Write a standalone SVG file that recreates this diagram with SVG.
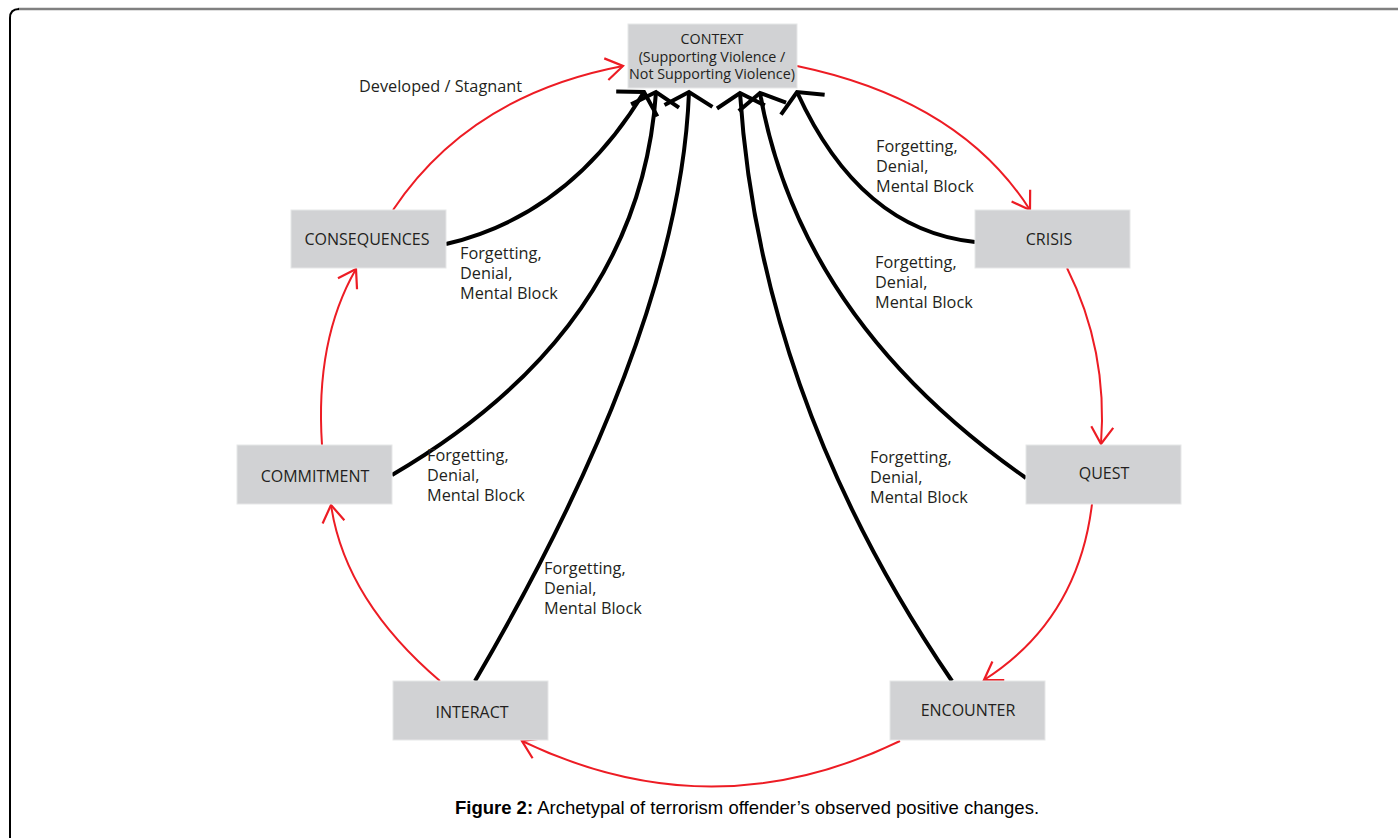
<svg xmlns="http://www.w3.org/2000/svg" width="1398" height="838" viewBox="0 0 1398 838">
<style>
.box{fill:#d1d2d4;stroke:#e6e7e8;stroke-width:1}
.lbl{font-family:"Open Sans","Liberation Sans",sans-serif;font-size:16px;fill:#231f20;text-anchor:middle}
.ctx{font-family:"Open Sans","Liberation Sans",sans-serif;font-size:14.3px;fill:#231f20;text-anchor:middle}
.note{font-family:"Open Sans","Liberation Sans",sans-serif;font-size:16.3px;fill:#231f20}
.red{fill:none;stroke:#ed1c24;stroke-width:2;marker-end:url(#ra)}
.blk{fill:none;stroke:#000;stroke-width:4;marker-end:url(#ba)}
</style>
<defs>
<marker id="ra" markerUnits="userSpaceOnUse" markerWidth="40" markerHeight="40" viewBox="-25 -20 30 40" refX="0" refY="0" orient="auto" overflow="visible">
<path d="M-17,-11 L0,0 L-17,11" fill="none" stroke="#ed1c24" stroke-width="2.2"/>
</marker>
<marker id="ba" markerUnits="userSpaceOnUse" markerWidth="60" markerHeight="60" viewBox="-30 -30 40 60" refX="0" refY="0" orient="auto" overflow="visible">
<path d="M-14,-24 L0,0 L-14,24" fill="none" stroke="#000" stroke-width="4"/>
</marker>
</defs>
<rect width="1398" height="838" fill="#fff"/>
<path d="M18,9 L1398,9" stroke="#808080" stroke-width="2.5" fill="none"/>
<path d="M10,838 L10,18 Q10,9 19,9" stroke="#000" stroke-width="2" fill="none"/>

<g id="connectors">
<path class="red" d="M393,210 Q470,95 623,66"/>
<path class="red" d="M797,66 Q960,100 1030,210"/>
<path class="red" d="M1067,268 Q1108,350 1101,444"/>
<path class="red" d="M1092,504 Q1078,620 984,680"/>
<path class="red" d="M900,741 Q712,832 522,741"/>
<path class="red" d="M440,681 Q345,600 331,505"/>
<path class="red" d="M322,445 Q315,340 356,269"/>

<path class="blk" d="M446,244 Q570,215 644,92"/>
<path class="blk" d="M392,475 Q640,330 656,92"/>
<path class="blk" d="M475,681 Q680,330 689,92"/>
<path class="blk" d="M952,681 Q760,400 740,93"/>
<path class="blk" d="M1026,478 Q800,320 760,93"/>
<path class="blk" d="M975,242 Q860,230 797,92"/>
</g>

<g id="context"><rect class="box" x="628" y="24" width="169" height="64"/>
<text class="ctx" x="712" y="44">CONTEXT</text>
<text class="ctx" x="712" y="62">(Supporting Violence /</text>
<text class="ctx" x="712" y="79">Not Supporting Violence)</text></g>
<g id="consequences"><rect class="box" x="291" y="210" width="155" height="58"/><text class="lbl" x="367" y="245">CONSEQUENCES</text></g>
<g id="crisis"><rect class="box" x="975" y="210" width="155" height="58"/><text class="lbl" x="1049" y="245">CRISIS</text></g>
<g id="commitment"><rect class="box" x="237" y="445" width="155" height="59"/><text class="lbl" x="315" y="482">COMMITMENT</text></g>
<g id="quest"><rect class="box" x="1026" y="445" width="155" height="59"/><text class="lbl" x="1104" y="479">QUEST</text></g>
<g id="interact"><rect class="box" x="393" y="681" width="155" height="59"/><text class="lbl" x="472" y="718">INTERACT</text></g>
<g id="encounter"><rect class="box" x="890" y="681" width="155" height="59"/><text class="lbl" x="968" y="716">ENCOUNTER</text></g>

<g id="labels">
<text class="note" x="359" y="92">Developed / Stagnant</text>
<text class="note" x="876" y="152">Forgetting,<tspan x="876" dy="20">Denial,</tspan><tspan x="876" dy="20">Mental Block</tspan></text>
<text class="note" x="875" y="268">Forgetting,<tspan x="875" dy="20">Denial,</tspan><tspan x="875" dy="20">Mental Block</tspan></text>
<text class="note" x="460" y="259">Forgetting,<tspan x="460" dy="20">Denial,</tspan><tspan x="460" dy="20">Mental Block</tspan></text>
<text class="note" x="427" y="461">Forgetting,<tspan x="427" dy="20">Denial,</tspan><tspan x="427" dy="20">Mental Block</tspan></text>
<text class="note" x="544" y="574">Forgetting,<tspan x="544" dy="20">Denial,</tspan><tspan x="544" dy="20">Mental Block</tspan></text>
<text class="note" x="870" y="463">Forgetting,<tspan x="870" dy="20">Denial,</tspan><tspan x="870" dy="20">Mental Block</tspan></text>
</g>
<text x="747" y="814" text-anchor="middle" font-family="Liberation Sans, Arial, sans-serif" font-size="18.5px" fill="#000"><tspan font-weight="bold">Figure 2:</tspan> Archetypal of terrorism offender’s observed positive changes.</text>
</svg>
